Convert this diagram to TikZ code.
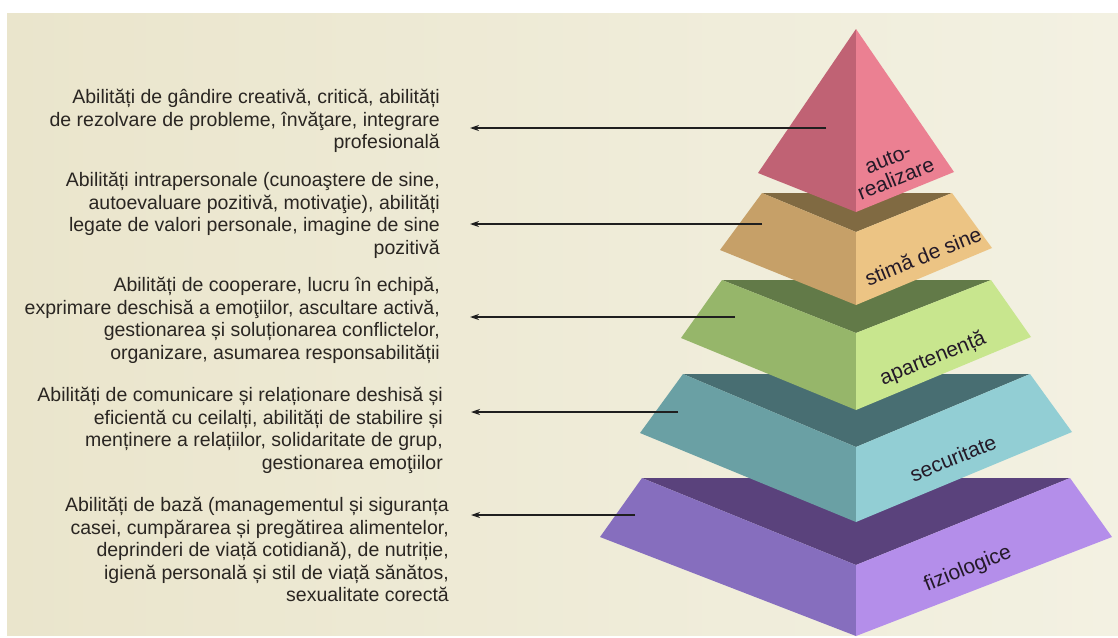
\documentclass[tikz,border=0pt]{standalone}
\usepackage{fontspec}
\setmainfont{Liberation Sans}
\usepackage{tikz}
\usetikzlibrary{arrows.meta}
\usepackage{xcolor}

\definecolor{bgl}{RGB}{234,229,204}
\definecolor{bgr}{RGB}{243,241,226}
\definecolor{txtc}{RGB}{42,38,34}
\definecolor{labc}{RGB}{36,26,40}
\definecolor{autoL}{RGB}{192,98,116}
\definecolor{autoR}{RGB}{235,128,146}
\definecolor{stimaT}{RGB}{128,106,66}
\definecolor{stimaL}{RGB}{198,160,104}
\definecolor{stimaR}{RGB}{236,196,132}
\definecolor{apT}{RGB}{98,122,72}
\definecolor{apL}{RGB}{150,182,106}
\definecolor{apR}{RGB}{200,230,142}
\definecolor{secT}{RGB}{72,110,114}
\definecolor{secL}{RGB}{106,160,164}
\definecolor{secR}{RGB}{146,206,212}
\definecolor{fizT}{RGB}{90,66,124}
\definecolor{fizL}{RGB}{134,110,190}
\definecolor{fizR}{RGB}{180,142,234}

\begin{document}
\begin{tikzpicture}[x=1pt, y=-1pt,
  txt/.style={align=right, inner sep=0pt, anchor=north east, text=txtc,
    font=\fontsize{19.5}{22.5}\selectfont},
  lab/.style={align=center, inner sep=0pt, rotate=22, text=labc,
    font=\fontsize{21}{21.5}\selectfont},
  pointer/.style={-{Stealth[length=9pt,width=6pt]}, line width=2.4pt, draw=black!88}]
\useasboundingbox (0,0) rectangle (1118,637);
% 背景
\fill[white] (0,0) rectangle (1118,637);
\shade[left color=bgl, right color=bgr] (7,13) rectangle (1118,635);

% 金字塔: 从下往上画
% fiziologice
\fill[fizT] (642,478) -- (1070,478) -- (856,565) -- cycle;
\fill[fizL] (642,478) -- (856,565) -- (856,636) -- (600,537) -- cycle;
\fill[fizR] (1070,478) -- (1112,537) -- (856,636) -- (856,565) -- cycle;
% securitate
\fill[secT] (683,374) -- (1030,374) -- (856,447) -- cycle;
\fill[secL] (683,374) -- (856,447) -- (856,522) -- (640,433) -- cycle;
\fill[secR] (1030,374) -- (1072,432) -- (856,522) -- (856,447) -- cycle;
% apartenenta
\fill[apT] (722,280) -- (991,280) -- (856,333) -- cycle;
\fill[apL] (722,280) -- (856,333) -- (856,410) -- (681,338) -- cycle;
\fill[apR] (991,280) -- (1031,337) -- (856,410) -- (856,333) -- cycle;
% stima de sine
\fill[stimaT] (762,193) -- (952,193) -- (856,232) -- cycle;
\fill[stimaL] (762,193) -- (856,232) -- (856,305) -- (720,250) -- cycle;
\fill[stimaR] (952,193) -- (992,248) -- (856,305) -- (856,232) -- cycle;
% auto-realizare
\fill[autoL] (856,29) -- (758,173) -- (856,212) -- cycle;
\fill[autoR] (856,29) -- (954,172) -- (856,212) -- cycle;

% 标签
\node[lab] (auto) at (892,169) {auto-\\realizare};
\node[lab] (stima) at (923,256) {stimă de sine};
\node[lab] (apart) at (933,359) {apartenență};
\node[lab] (secur) at (953,458) {securitate};
\node[lab] (fizio) at (968,569) {fiziologice};

% 说明文字
\node[txt] (txtauto) at (440,89) {Abilități de gândire creativă, critică, abilități\\de rezolvare de probleme, învăţare, integrare\\profesională};
\node[txt] (txtstima) at (440,172) {Abilități intrapersonale (cunoaştere de sine,\\autoevaluare pozitivă, motivaţie), abilități\\legate de valori personale, imagine de sine\\pozitivă};
\node[txt] (txtapart) at (440,277) {Abilități de cooperare, lucru în echipă,\\exprimare deschisă a emoţiilor, ascultare activă,\\gestionarea și soluționarea conflictelor,\\organizare, asumarea responsabilității};
\node[txt] (txtsecur) at (443,387) {Abilități de comunicare și relaționare deshisă și\\eficientă cu ceilalți, abilități de stabilire și\\menținere a relațiilor, solidaritate de grup,\\gestionarea emoţiilor};
\node[txt] (txtfizio) at (449,497) {Abilități de bază (managementul și siguranța\\casei, cumpărarea și pregătirea alimentelor,\\deprinderi de viață cotidiană), de nutriție,\\igienă personală și stil de viață sănătos,\\sexualitate corectă};

% 箭头
\coordinate (pauto) at (826,128);  \coordinate (eauto) at (470,128);
\coordinate (pstima) at (762,224); \coordinate (estima) at (470,224);
\coordinate (papart) at (735,317); \coordinate (eapart) at (470,317);
\coordinate (psecur) at (678,412); \coordinate (esecur) at (471,412);
\coordinate (pfizio) at (635,515); \coordinate (efizio) at (471,515);
\draw[pointer] (pauto) -- (eauto);
\draw[pointer] (pstima) -- (estima);
\draw[pointer] (papart) -- (eapart);
\draw[pointer] (psecur) -- (esecur);
\draw[pointer] (pfizio) -- (efizio);
\end{tikzpicture}
\end{document}
